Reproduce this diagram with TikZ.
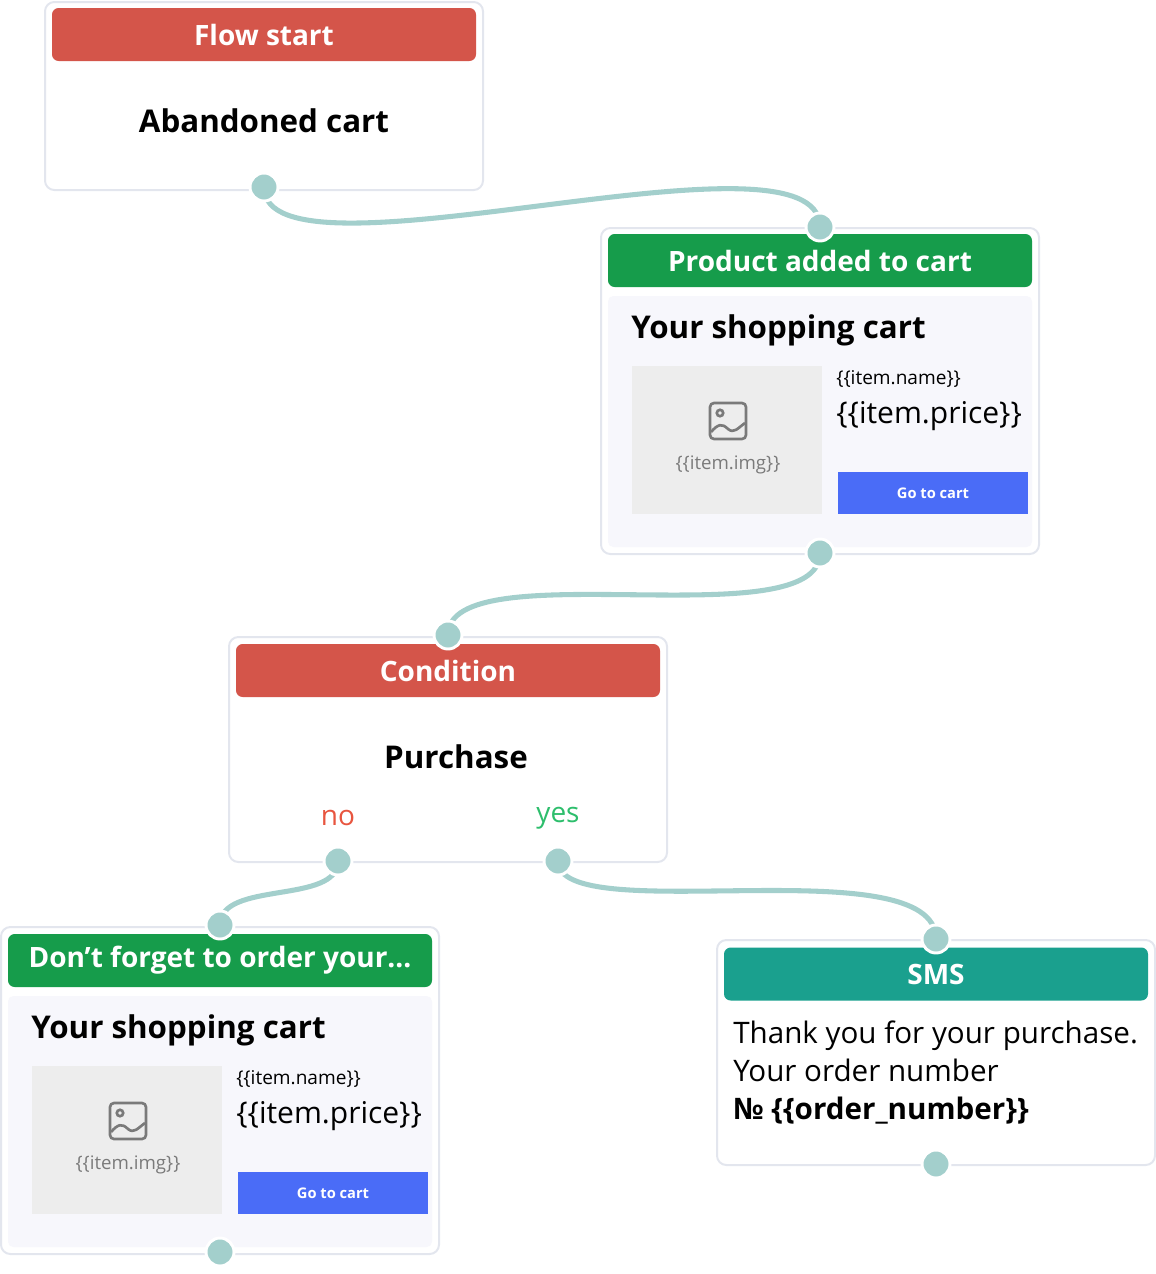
\documentclass[tikz,border=0pt]{standalone}
\usepackage{fontspec}
\setmainfont{Open Sans}
\begin{document}
\begin{tikzpicture}[x=0.75pt,y=-0.75pt,
  card/.style={draw=cardline,line width=1.5pt,fill=white,rounded corners=7pt,inner sep=0pt},
  head/.style={fill=#1,rounded corners=5pt,inner sep=0pt,minimum width={424*0.75pt},minimum height={53*0.75pt},text=white,font=\fontsize{21}{24}\selectfont\bfseries},
  panel/.style={fill=panelbg,rounded corners=4pt,inner sep=0pt,minimum width={424*0.75pt},minimum height={251*0.75pt}},
  imgbox/.style={fill=imggray,inner sep=0pt,minimum width={190*0.75pt},minimum height={148*0.75pt}},
  btn/.style={fill=btnblue,inner sep=0pt,minimum width={190*0.75pt},minimum height={42*0.75pt},text=white,font=\fontsize{11}{13}\selectfont\bfseries},
  dot/.style={circle,fill=dotc,draw=white,line width=2.2pt,minimum size={28*0.75pt},inner sep=0pt},
  conn/.style={draw=dotc,line width=3.8pt,line cap=round},
  big/.style={font=\fontsize{23.5}{27}\selectfont\bfseries},
  small/.style={font=\fontsize{14.3}{16}\selectfont,inner sep=0pt,anchor=west},
  price/.style={font=\fontsize{22.5}{26}\selectfont,inner sep=0pt,anchor=west},
  imgtxt/.style={font=\fontsize{14}{16}\selectfont,text=icong},
  icon/.style={draw=icong,line width=2pt}]
\definecolor{cardline}{HTML}{E3E6EE}
\definecolor{panelbg}{HTML}{F7F7FC}
\definecolor{imggray}{HTML}{EDEDED}
\definecolor{btnblue}{HTML}{4A6CF7}
\definecolor{dotc}{HTML}{A3CFCC}
\definecolor{redh}{HTML}{D4554A}
\definecolor{greenh}{HTML}{169C4B}
\definecolor{tealh}{HTML}{1AA08E}
\definecolor{icong}{HTML}{7A7A7A}
\definecolor{nored}{HTML}{E8553F}
\definecolor{yesgreen}{HTML}{2DBE6C}
\useasboundingbox (0,0) rectangle (1156,1274);
% connector endpoints
\coordinate (p1) at (264,187); \coordinate (p2) at (820,227);
\coordinate (p3) at (820,553); \coordinate (p4) at (448,635);
\coordinate (p5) at (338,861); \coordinate (p6) at (220,925);
\coordinate (p7) at (558,861); \coordinate (p8) at (936,939);
\path[conn] (p1) .. controls (264,295) and (820,115) .. (p2);
\path[conn] (p3) .. controls (820,640) and (448,550) .. (p4);
\path[conn] (p5) .. controls (338,905) and (220,880) .. (p6);
\path[conn] (p7) .. controls (558,930) and (936,845) .. (p8);
% card 1
\node[card,minimum width={438*0.75pt},minimum height={188*0.75pt}] (c1) at (264,96) {};
\node[head=redh] (h1) at (264,34.5) {Flow start};
\node[big] (t1) at (264,121) {Abandoned cart};
% card 2
\node[card,minimum width={438*0.75pt},minimum height={326*0.75pt}] (c2) at (820,391) {};
\node[head=greenh] (h2) at (820,260.5) {Product added to cart};
\node[panel] (pn2) at (820,421.5) {};
\node[big,anchor=west,inner sep=0pt] (y2) at (631,330) {Your shopping cart};
\node[imgbox] (i2) at (727,440) {};
\draw[icon,rounded corners=3pt] (710,403) rectangle (746,439);
\draw[icon] (720,413) circle (3.2);
\draw[icon,line join=round] (711,432) .. controls (718,424) and (722,423) .. (728,429) .. controls (734,434) and (738,428) .. (745,423);
\node[imgtxt] (it2) at (728,465) {\{\{item.img\}\}};
\node[small] (n2) at (836,379) {\{\{item.name\}\}};
\node[price] (pr2) at (836,416) {\{\{item.price\}\}};
\node[btn] (b2) at (933,493) {Go to cart};
% card 3
\node[card,minimum width={438*0.75pt},minimum height={225*0.75pt}] (c3) at (448,749.5) {};
\node[head=redh] (h3) at (448,670.5) {Condition};
\node[big] (t3) at (456,757) {Purchase};
\node[font=\fontsize{21}{24}\selectfont,text=nored] (no) at (338,818) {no};
\node[font=\fontsize{21}{24}\selectfont,text=yesgreen] (yes) at (558,818) {yes};
% card 4
\node[card,minimum width={438*0.75pt},minimum height={327*0.75pt}] (c4) at (220,1090.5) {};
\node[head=greenh] (h4) at (220,960.5) {Don't forget to order your...};
\node[panel] (pn4) at (220,1121.5) {};
\node[big,anchor=west,inner sep=0pt] (y4) at (31,1030) {Your shopping cart};
\node[imgbox] (i4) at (127,1140) {};
\draw[icon,rounded corners=3pt] (110,1103) rectangle (146,1139);
\draw[icon] (120,1113) circle (3.2);
\draw[icon,line join=round] (111,1132) .. controls (118,1124) and (122,1123) .. (128,1129) .. controls (134,1134) and (138,1128) .. (145,1123);
\node[imgtxt] (it4) at (128,1165) {\{\{item.img\}\}};
\node[small] (n4) at (236,1079) {\{\{item.name\}\}};
\node[price] (pr4) at (236,1116) {\{\{item.price\}\}};
\node[btn] (b4) at (333,1193) {Go to cart};
% card 5
\node[card,minimum width={438*0.75pt},minimum height={225*0.75pt}] (c5) at (936,1052.5) {};
\node[head=tealh] (h5) at (936,974) {SMS};
\node[anchor=north west,inner sep=0pt,align=left,font=\fontsize{22.2}{28.5}\selectfont] (s5) at (733,1021) {Thank you for your purchase.\\Your order number\\\textbf{№ \{\{order\_number\}\}}};
% dots
\foreach \p in {p1,p2,p3,p4,p5,p6,p7,p8} \node[dot] at (\p) {};
\node[dot] (d9) at (220,1252) {};
\node[dot] (d10) at (936,1164) {};
\end{tikzpicture}
\end{document}
